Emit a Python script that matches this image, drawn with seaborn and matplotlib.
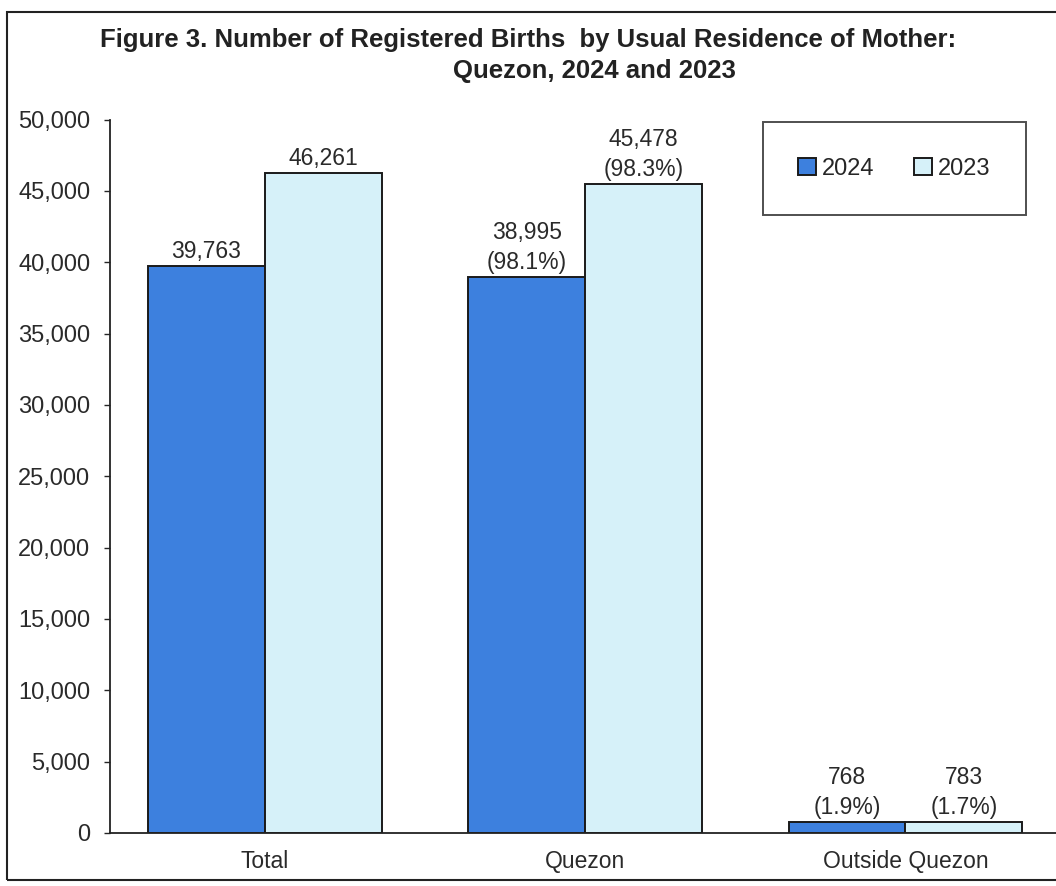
import pandas as pd
import matplotlib.pyplot as plt
import seaborn as sns

# chart data
categories = ["Total", "Quezon", "Outside Quezon"]
years = ["2024", "2023"]
births_2024 = [39763, 38995, 768]
births_2023 = [46261, 45478, 783]
labels_2024 = ["39,763", "38,995\n(98.1%)", "768\n(1.9%)"]
labels_2023 = ["46,261", "45,478\n(98.3%)", "783\n(1.7%)"]

df = pd.DataFrame({
    "Residence": categories * 2,
    "Year": [years[0]] * 3 + [years[1]] * 3,
    "Births": births_2024 + births_2023,
})

sns.set_style("white")
plt.rcParams["font.family"] = ["Liberation Sans", "DejaVu Sans"]

fig = plt.figure(figsize=(10.56, 8.86), dpi=100)
ax = fig.add_axes([0.104, 0.06, 0.896, 0.805])

sns.barplot(data=df, x="Residence", y="Births", hue="Year", order=categories,
            hue_order=years, palette=["#3d80de", "#d6f1f9"], saturation=1,
            width=0.73, edgecolor="#1a1a1a", linewidth=1.4, ax=ax)

for cont, labs in zip(ax.containers, [labels_2024, labels_2023]):
    ax.bar_label(cont, labels=labs, padding=2, fontsize=16.5, color="#2a2a2a",
                 linespacing=1.4)

ax.set_ylim(0, 50000)
ax.set_xlim(-0.484, 2.47)
ax.set_yticks(range(0, 50001, 5000))
ax.set_yticklabels([f"{v:,}" for v in range(0, 50001, 5000)], fontsize=17,
                   color="#2a2a2a")
ax.tick_params(axis="x", length=0, pad=12, labelsize=16.5, labelcolor="#2a2a2a")
ax.tick_params(axis="y", length=4, width=1, direction="out", left=True, pad=10)
ax.set_xlabel("")
ax.set_ylabel("")
for side in ["top", "right"]:
    ax.spines[side].set_visible(False)
for side in ["left", "bottom"]:
    ax.spines[side].set_color("#222222")
    ax.spines[side].set_linewidth(1.3)

leg = ax.legend(loc="upper left", bbox_to_anchor=(0.69, 0.996), ncol=2,
                fontsize=17, frameon=True, fancybox=False, handlelength=0.75,
                handleheight=0.75, handletextpad=0.25, columnspacing=1.7,
                borderpad=1.5, borderaxespad=0)
leg.get_frame().set_edgecolor("#222222")
leg.get_frame().set_linewidth(1.4)

fig.text(0.5, 0.955, "Figure 3. Number of Registered Births  by Usual Residence of Mother:",
         ha="center", va="center", fontsize=18.5, fontweight="bold", color="#222222")
fig.text(0.563, 0.92, "Quezon, 2024 and 2023", ha="center", va="center",
         fontsize=18.5, fontweight="bold", color="#222222")

fig.add_artist(plt.Rectangle((0.007, 0.007), 1.1, 0.979, transform=fig.transFigure,
                             fill=False, edgecolor="#222222", linewidth=1.5,
                             clip_on=False))

fig.savefig("out.png", dpi=100)
